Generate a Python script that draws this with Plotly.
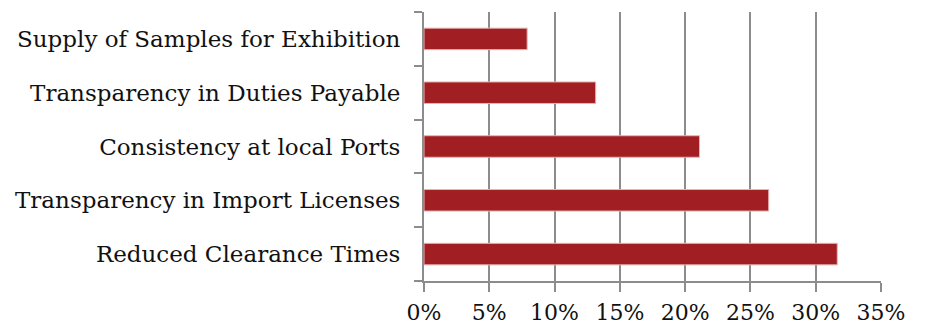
import plotly.graph_objects as go

categories = [
    "Supply of Samples for Exhibition",
    "Transparency in Duties Payable",
    "Consistency at local Ports",
    "Transparency in Import Licenses",
    "Reduced Clearance Times",
]
values = [0.079, 0.1315, 0.211, 0.264, 0.3165]
tick_vals = [0, 0.05, 0.10, 0.15, 0.20, 0.25, 0.30, 0.35]
tick_text = ["0%", "5%", "10%", "15%", "20%", "25%", "30%", "35%"]

font_family = "DejaVu Serif"
grid_col = "#8c8c8c"

fig = go.Figure(go.Bar(
    x=values, y=categories, orientation="h",
    marker=dict(color="#A11F22", line=dict(color="#e6b3b3", width=1)),
    width=0.4,
))

fig.update_layout(
    width=931, height=327,
    margin=dict(l=424, r=50, t=12, b=46),
    paper_bgcolor="white", plot_bgcolor="white",
    showlegend=False,
    font=dict(family=font_family, color="#111111"),
)
fig.update_xaxes(
    range=[0, 0.35], tickvals=tick_vals, ticktext=tick_text,
    showgrid=True, gridcolor=grid_col, gridwidth=2,
    ticks="outside", ticklen=9, tickcolor=grid_col, tickwidth=2,
    showline=True, linecolor=grid_col, linewidth=2,
    tickfont=dict(size=22, family=font_family),
    zeroline=False, ticklabelstandoff=2, automargin=False,
)
fig.update_yaxes(
    categoryorder="array", categoryarray=categories[::-1],
    range=[-0.5, 4.5],
    ticks="outside", ticklen=8, tickcolor=grid_col, tickwidth=2,
    tickson="boundaries",
    showline=True, linecolor=grid_col, linewidth=2,
    showgrid=False,
    tickfont=dict(size=23, family=font_family),
    ticklabelstandoff=17, automargin=False,
)
fig.write_html("out.html")
